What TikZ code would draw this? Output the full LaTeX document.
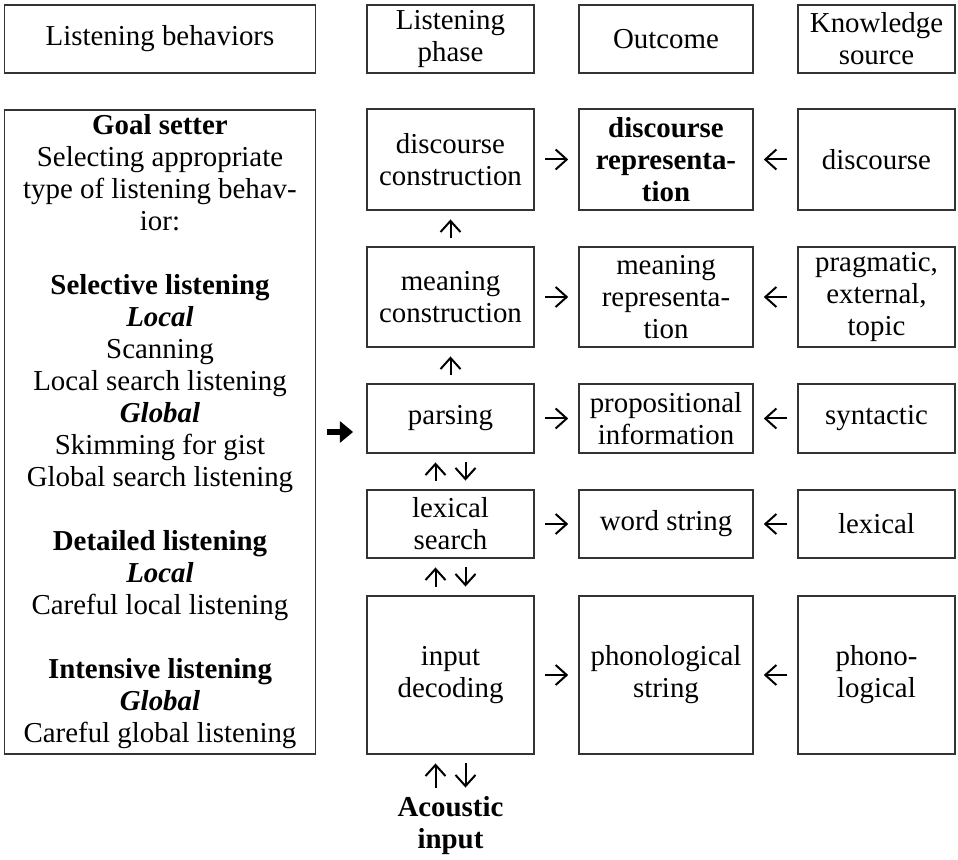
\documentclass[tikz,border=0pt]{standalone}
\usepackage{fontspec}
\setmainfont{Liberation Serif}
\usetikzlibrary{positioning, arrows.meta}
\tikzstyle{arrow} = [line width=0.9pt, -{Straight Barb[length=5pt,width=9pt]}, shorten >=4.6pt, shorten <=4.6pt]

\begin{document}
\begin{tikzpicture}[x=0.45pt, y=-0.45pt]
                    \tikzstyle{every node}=[font=\fontsize{13}{14.4}\selectfont]
                    \tikzstyle{box} = [draw=black!80, line width=0.5pt, align=center, inner sep=1pt]
                    \tikzstyle{headbox} = [box, minimum height=30.6pt]
                    \tikzstyle{phasebox} = [box, minimum width=75.15pt]
                    \tikzstyle{outbox} = [box, minimum width=78.3pt]
                    \tikzstyle{srcbox} = [box, minimum width=70.65pt]
                    \tikzstyle{varrow} = [arrow, shorten >=4pt, shorten <=4pt]
                    \tikzstyle{bigarrow} = [line width=2.6pt, -{Triangle[length=6pt,width=9.5pt]}, shorten <=5pt, shorten >=6pt]

                    \useasboundingbox (0,0) rectangle (958,860);

                    % column heads
                    \node[headbox, minimum width=139.95pt](behav) at (160,39) {Listening behaviors};
                    \node[headbox, phasebox](phase) at (450.5,39) {Listening\\phase};
                    \node[headbox, outbox](outc) at (666,39) {Outcome};
                    \node[headbox, srcbox](know) at (876.5,39) {Knowledge\\source};

                    % goal setter
                    \node[box, minimum width=139.95pt, minimum height=289.8pt](goal) at (160,432) {\textbf{Goal setter}\\Selecting appropriate\\type of listening behav-\\ior:\\[14.4pt]
                        \textbf{Selective listening}\\\textbf{\textit{Local}}\\Scanning\\Local search listening\\\textbf{\textit{Global}}\\Skimming for gist\\Global search listening\\[14.4pt]
                        \textbf{Detailed listening}\\\textbf{\textit{Local}}\\Careful local listening\\[14.4pt]
                        \textbf{Intensive listening}\\\textbf{\textit{Global}}\\Careful global listening};

                    % listening phases
                    \node[phasebox, minimum height=45.45pt](disc) at (450.5,159.5) {discourse\\construction};
                    \node[phasebox, minimum height=45pt](mean) at (450.5,297) {meaning\\construction};
                    \node[phasebox, minimum height=31.05pt](pars) at (450.5,418.5) {parsing};
                    \node[phasebox, minimum height=30.6pt](lex) at (450.5,524) {lexical\\search};
                    \node[phasebox, minimum height=71.1pt](inp) at (450.5,675) {input\\decoding};
                    \node[align=center, inner sep=0pt](acou) at (450.5,826) {\textbf{Acoustic}\\\textbf{input}};

                    % outcomes
                    \node[outbox, minimum height=45.45pt](discrep) at (666,159.5) {\textbf{discourse}\\\textbf{representa-}\\\textbf{tion}};
                    \node[outbox, minimum height=45pt](meanrep) at (666,297) {meaning\\representa-\\tion};
                    \node[outbox, minimum height=31.05pt](prop) at (666,418.5) {propositional\\information};
                    \node[outbox, minimum height=30.6pt](word) at (666,524) {word string};
                    \node[outbox, minimum height=71.1pt](phon) at (666,675) {phonological\\string};

                    % knowledge sources
                    \node[srcbox, minimum height=45.45pt](sdisc) at (876.5,159.5) {discourse};
                    \node[srcbox, minimum height=45pt](sprag) at (876.5,297) {pragmatic,\\external,\\topic};
                    \node[srcbox, minimum height=31.05pt](ssyn) at (876.5,418.5) {syntactic};
                    \node[srcbox, minimum height=30.6pt](slex) at (876.5,524) {lexical};
                    \node[srcbox, minimum height=71.1pt](sphon) at (876.5,675) {phono-\\logical};

                    % arrows
                    \foreach \a/\b in {disc/discrep, mean/meanrep, pars/prop, lex/word, inp/phon}
                        \draw[arrow] (\a) -- (\b);
                    \foreach \a/\b in {sdisc/discrep, sprag/meanrep, ssyn/prop, slex/word, sphon/phon}
                        \draw[arrow] (\a) -- (\b);
                    \draw[varrow] (mean) -- (disc);
                    \draw[varrow] (pars) -- (mean);
                    \foreach \u/\l in {lex/pars, inp/lex, acou/inp} {
                        \draw[varrow] ([xshift=-6.75pt]\u.north) -- ([xshift=-6.75pt]\l.south);
                        \draw[varrow] ([xshift=6.75pt]\l.south) -- ([xshift=6.75pt]\u.north);
                    }
                    \draw[bigarrow] (goal) -- (goal -| pars.west);

            \end{tikzpicture}
\end{document}
